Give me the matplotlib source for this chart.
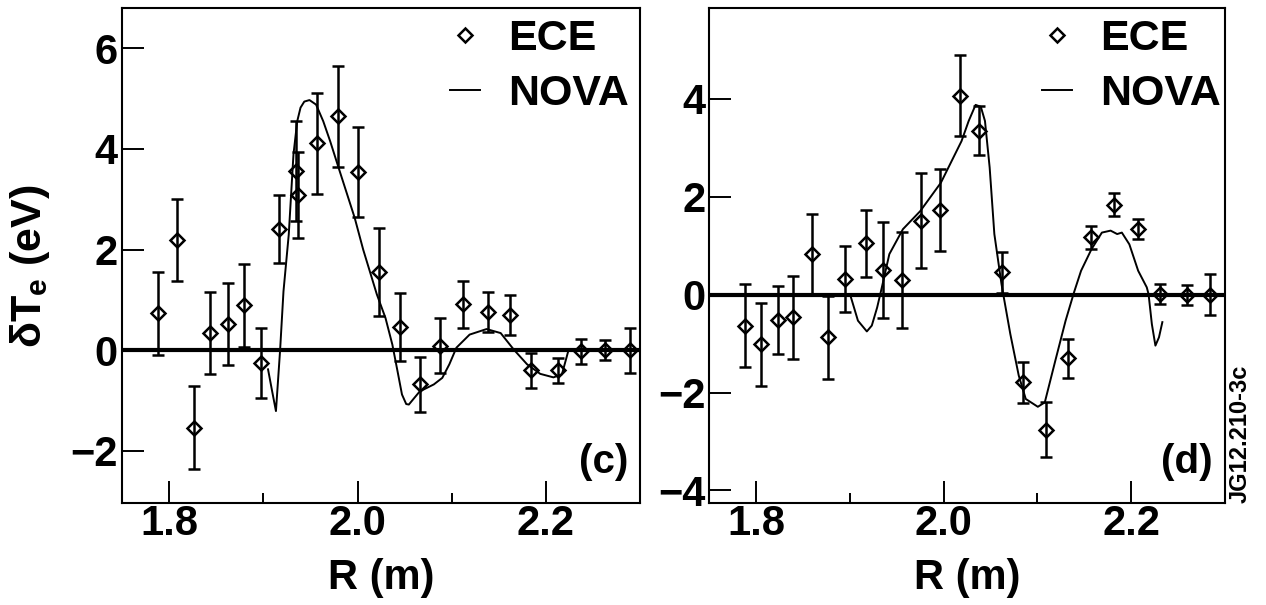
import matplotlib
matplotlib.use("Agg")
import matplotlib.pyplot as plt
from matplotlib.lines import Line2D
from matplotlib.ticker import MultipleLocator

plt.rcParams['font.family'] = ['Liberation Sans', 'DejaVu Sans']
plt.rcParams['font.weight'] = 'bold'

# ECE measurements, panel (c)
c_R = [1.788, 1.808, 1.826, 1.843, 1.862, 1.879, 1.898, 1.917, 1.935, 1.937,
       1.957, 1.979, 2.001, 2.023, 2.045, 2.066, 2.088, 2.112, 2.139, 2.162,
       2.184, 2.213, 2.237, 2.263, 2.289]
c_dT = [0.73, 2.19, -1.54, 0.34, 0.52, 0.89, -0.25, 2.41, 3.56, 3.08,
        4.11, 4.65, 3.54, 1.55, 0.46, -0.68, 0.09, 0.91, 0.76, 0.70,
        -0.40, -0.40, -0.02, 0.0, 0.0]
c_err = [0.82, 0.82, 0.82, 0.82, 0.82, 0.82, 0.70, 0.67, 1.0, 0.85,
         1.0, 1.0, 0.9, 0.88, 0.67, 0.54, 0.54, 0.46, 0.4, 0.4,
         0.35, 0.25, 0.25, 0.2, 0.45]

# NOVA, panel (c)
c_nova_R = [1.905, 1.9094, 1.9134, 1.9178, 1.9214, 1.927, 1.932, 1.936, 1.9395,
            1.9435, 1.949, 1.956, 1.9636, 1.971, 1.980, 1.997, 2.006, 2.0205,
            2.0297, 2.037, 2.0425, 2.0472, 2.0517, 2.0545, 2.0589, 2.066, 2.081,
            2.090, 2.0975, 2.105, 2.119, 2.137, 2.152, 2.166, 2.180, 2.194,
            2.208, 2.217, 2.224]
c_nova = [-0.38, -0.82, -1.21, 0.0, 1.17, 2.30, 3.89, 4.55, 4.82,
          4.94, 4.97, 4.88, 4.55, 4.15, 3.62, 2.63, 2.0, 1.11,
          0.64, 0.11, -0.42, -0.88, -1.07, -1.08, -0.98, -0.82, -0.68,
          -0.55, -0.28, 0.05, 0.31, 0.42, 0.34, 0.01, -0.28, -0.47,
          -0.54, -0.48, 0.0]

# ECE measurements, panel (d)
d_R = [1.788, 1.805, 1.823, 1.839, 1.859, 1.877, 1.895, 1.917, 1.935, 1.955,
       1.976, 1.996, 2.017, 2.038, 2.062, 2.085, 2.109, 2.133, 2.157, 2.182,
       2.207, 2.231, 2.259, 2.284]
d_dT = [-0.63, -1.01, -0.52, -0.46, 0.83, -0.87, 0.32, 1.05, 0.50, 0.30,
        1.51, 1.73, 4.07, 3.35, 0.46, -1.79, -2.76, -1.30, 1.17, 1.84,
        1.34, 0.01, 0.0, 0.0]
d_err = [0.85, 0.85, 0.7, 0.85, 0.82, 0.85, 0.68, 0.69, 0.98, 0.98,
         0.97, 0.83, 0.83, 0.5, 0.42, 0.42, 0.56, 0.4, 0.24, 0.24,
         0.2, 0.2, 0.2, 0.42]

# NOVA, panel (d)
d_nova_R = [1.901, 1.9085, 1.918, 1.9233, 1.929, 1.934, 1.942, 1.9565, 1.975,
            1.997, 2.019, 2.0266, 2.034, 2.0396, 2.044, 2.049, 2.054, 2.0616,
            2.0635, 2.071, 2.080, 2.0875, 2.1004, 2.1078, 2.119, 2.130, 2.139,
            2.1465, 2.1576, 2.1687, 2.178, 2.185, 2.190, 2.198, 2.2074, 2.2166,
            2.2185, 2.222, 2.2258, 2.2296, 2.2332]
d_nova = [-0.05, -0.53, -0.75, -0.63, -0.26, 0.15, 0.83, 1.34, 1.71,
          2.29, 3.14, 3.55, 3.88, 3.84, 3.55, 2.60, 1.24, 0.22,
          0.01, -0.80, -1.65, -2.13, -2.29, -2.2, -1.35, -0.53, 0.05,
          0.49, 0.93, 1.27, 1.31, 1.24, 1.27, 1.03, 0.49, 0.15,
          0.01, -0.6, -1.04, -0.87, -0.56]

panels = [
    (c_R, c_dT, c_err, c_nova_R, c_nova, '(c)', (-3.03, 6.79), [-2, 0, 2, 4, 6], 0.979),
    (d_R, d_dT, d_err, d_nova_R, d_nova, '(d)', (-4.25, 5.85), [-4, -2, 0, 2, 4], 0.992),
]

fig = plt.figure(figsize=(12.66, 6.05), dpi=100)
lefts = [0.0964, 0.5603]
widths = [0.4092, 0.4073]

for i, (R, dT, err, nR, nv, tag, ylim, yt, legx) in enumerate(panels):
    ax = fig.add_axes([lefts[i], 0.1691, widths[i], 0.8169])
    ax.axhline(0, color='black', lw=3, zorder=1)
    ax.plot(nR, nv, color='black', lw=1.4, zorder=2)
    ax.errorbar(R, dT, yerr=err, fmt='D', ms=7, mfc='none', mec='black', mew=1.8,
                ecolor='black', elinewidth=1.8, capsize=4.3, capthick=1.8, zorder=3)
    ax.set_xlim(1.75, 2.30)
    ax.set_ylim(*ylim)
    ax.set_yticks(yt)
    ax.xaxis.set_minor_locator(MultipleLocator(0.1))
    ax.set_xticks([1.8, 2.0, 2.2])
    ax.set_xticklabels(['1.8', '2.0', '2.2'])
    ax.tick_params(axis='both', which='major', direction='in', length=16, width=1.4,
                   labelsize=30, top=False, right=False)
    ax.tick_params(axis='x', which='minor', direction='in', length=7, width=1.4, top=False)
    ax.tick_params(axis='x', which='major', pad=1)
    ax.tick_params(axis='y', which='major', pad=3)
    for s in ax.spines.values():
        s.set_linewidth(1.5)
    ax.set_xlabel('R (m)', fontsize=30, fontweight='bold', labelpad=10)
    ax.text(0.977, 0.083, tag, transform=ax.transAxes, ha='right', va='center',
            fontsize=29, fontweight='bold')

    h_ece = Line2D([], [], ls='none', marker='D', ms=7, mfc='none', mec='black', mew=1.8)
    h_nova = Line2D([], [], color='black', lw=1.4)
    ax.legend([h_ece, h_nova], ['ECE', 'NOVA'], loc='upper right',
              bbox_to_anchor=(legx, 0.979), frameon=False, borderpad=0,
              borderaxespad=0, handlelength=0.71, handletextpad=0.65,
              labelspacing=0.35, prop={'size': 31, 'weight': 'bold'})

fig.text(0.024, 1 - 266.5 / 605, 'δT$_\\mathregular{e}$ (eV)', rotation=90,
         ha='center', va='center', fontsize=31, fontweight='bold')
fig.text(1240 / 1266, 1 - 503 / 605, 'JG12.210-3c', rotation=90,
         ha='center', va='bottom', fontsize=17, fontweight='bold')

fig.savefig('out.png', dpi=100)
